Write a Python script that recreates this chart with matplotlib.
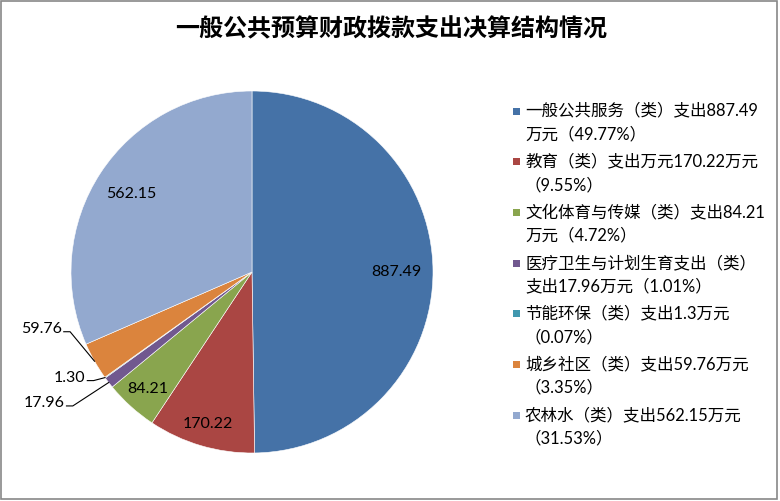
import numpy as np
import matplotlib.pyplot as plt
from matplotlib.patches import Rectangle

plt.rcParams['font.family'] = ['Lato', 'Noto Sans CJK SC', 'DejaVu Sans']

# data
title = "一般公共预算财政拨款支出决算结构情况"
values = [887.49, 170.22, 84.21, 17.96, 1.30, 59.76, 562.15]
legend_labels = [
    "一般公共服务（类）支出887.49\n万元（49.77%）",
    "教育（类）支出万元170.22万元\n（9.55%）",
    "文化体育与传媒（类）支出84.21\n万元（4.72%）",
    "医疗卫生与计划生育支出（类）\n支出17.96万元（1.01%）",
    "节能环保（类）支出1.3万元\n（0.07%）",
    "城乡社区（类）支出59.76万元\n（3.35%）",
    "农林水（类）支出562.15万元\n（31.53%）",
]
colors = ["#4572A7", "#AA4643", "#89A54E", "#71588F", "#4198AF", "#DB843D", "#93A9CF"]

# label placement: radial distance for inside labels, None -> outside with leader
inside_dist = [0.80, 0.87, 0.86, None, None, None, 0.80]
# outside label anchor (right end of text) in data units
outside_pos = {3: (-1.035, -0.72), 4: (-0.92, -0.58), 5: (-1.05, -0.31)}

W, H = 780, 502
fig = plt.figure(figsize=(W / 100, H / 100), dpi=100)

cx, cy, r = 252, 273, 181
ax = fig.add_axes([(cx - r) / W, (H - cy - r) / H, 2 * r / W, 2 * r / H])
wedges, _ = ax.pie(values, colors=colors, startangle=90, counterclock=False,
                   wedgeprops=dict(edgecolor="white", linewidth=0.4))
ax.set_xlim(-1, 1)
ax.set_ylim(-1, 1)
ax.set_aspect("equal")

for i, w in enumerate(wedges):
    mid = np.deg2rad((w.theta1 + w.theta2) / 2)
    txt = f"{values[i]:.2f}"
    if inside_dist[i] is not None:
        d = inside_dist[i]
        ax.text(d * np.cos(mid), d * np.sin(mid), txt, ha="center", va="center",
                fontsize=11.5, color="black")
    else:
        tx, ty = outside_pos[i]
        ex, ey = np.cos(mid), np.sin(mid)
        ax.text(tx, ty, txt, ha="right", va="center", fontsize=11.5, clip_on=False)
        ax.plot([tx + 0.01, tx + 0.045, ex], [ty - 0.02, ty - 0.02, ey],
                color="black", linewidth=0.8, clip_on=False)

fig.text(391 / W, 1 - 29 / H, title, ha="center", va="center",
         fontsize=17.3, fontweight="bold", family=["Noto Sans CJK SC"])

# legend: square marker next to the first line of each two-line entry
y0, pitch, gap = 112, 50.7, 21
for i, (lab, col) in enumerate(zip(legend_labels, colors)):
    y = y0 + i * pitch
    fig.add_artist(Rectangle((513 / W, 1 - (y + 3.5) / H), 7 / W, 7 / H,
                             transform=fig.transFigure, facecolor=col,
                             edgecolor="none"))
    fig.text(525 / W, 1 - (y + gap / 2) / H, lab, ha="left", va="center",
             fontsize=11.9, linespacing=1.58)

fig.add_artist(Rectangle((1 / W, 2 / H), (W - 4) / W, (H - 4) / H,
                         transform=fig.transFigure, fill=False,
                         edgecolor="#888888", linewidth=1.2))

fig.savefig("out.png", dpi=100)
